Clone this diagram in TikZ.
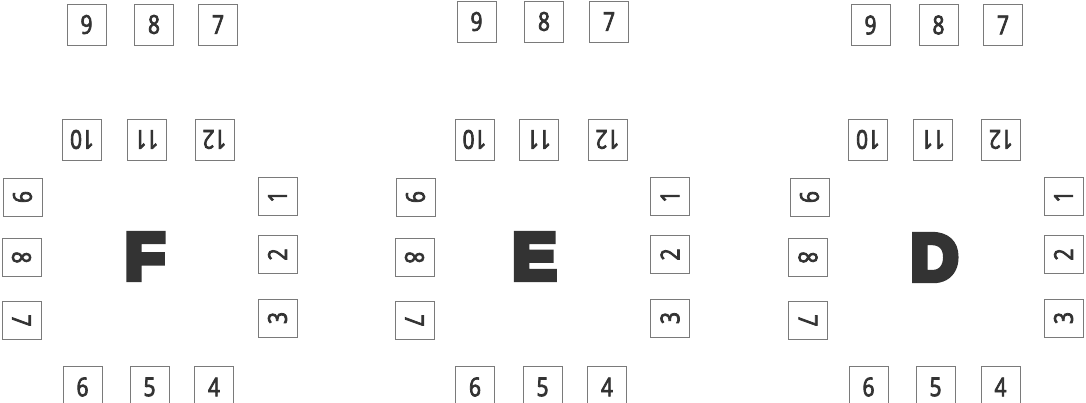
\documentclass[tikz,border=0pt]{standalone}
\usepackage{fontspec}
\usepackage{graphicx}
\newfontfamily\seatfont[FakeStretch=0.8,FakeBold=3]{Open Sans}
\newfontfamily\heavyfont[BoldFeatures={FakeBold=9}]{Liberation Sans}
\definecolor{boxline}{HTML}{7A7A7A}
\definecolor{ink}{HTML}{333333}
\tikzset{
  seat/.style={draw=boxline, line width=0.9pt, fill=white, minimum width=39pt,
    minimum height=41pt, inner sep=0pt, text=ink,
    font=\seatfont\fontsize{26}{26}\selectfont},
  sideseat/.style={seat, minimum width=39pt, minimum height=38pt},
  tablelabel/.style={inner sep=0pt, text=ink,
    font=\heavyfont\bfseries\fontsize{66}{66}\selectfont}
}
\newcommand\cw[1]{\rotatebox{-90}{#1}}
\newcommand\ccw[1]{\rotatebox{90}{#1}}
\newcommand\flip[1]{\rotatebox{180}{#1}}
\begin{document}
\begin{tikzpicture}[x=1pt,y=-1pt]
\clip (0,0) rectangle (1086,402);
\fill[white] (0,0) rectangle (1086,402);
% ---------- group F ----------
\node[seat] (Fa9) at (86.5,24.5) {9};
\node[seat] (Fa8) at (154,24.5) {8};
\node[seat] (Fa7) at (218,24.5) {7};
\node[seat] (F10) at (82,139.5) {\flip{10}};
\node[seat] (F11) at (146.5,139.5) {\flip{11}};
\node[seat] (F12) at (214.5,139.5) {\flip{12}};
\node[sideseat] (F9) at (22.5,197) {\cw{9}};
\node[sideseat] (F8) at (21.5,257.5) {\cw{8}};
\node[sideseat] (F7) at (21.5,320.5) {\cw{7}};
\node[sideseat] (F1) at (277.5,196.5) {\ccw{1}};
\node[sideseat] (F2) at (277.5,254.5) {\ccw{2}};
\node[sideseat] (F3) at (277.5,318) {\ccw{3}};
\node[seat] (F6) at (82.5,387) {6};
\node[seat] (F5) at (149.5,387) {5};
\node[seat] (F4) at (214,387) {4};
\node[tablelabel] (Flab) at (145,256.5) {F};
% ---------- group E ----------
\node[seat] (Ea9) at (476.5,21.5) {9};
\node[seat] (Ea8) at (544,21.5) {8};
\node[seat] (Ea7) at (609,21.5) {7};
\node[seat] (E10) at (474.5,139.5) {\flip{10}};
\node[seat] (E11) at (539,139.5) {\flip{11}};
\node[seat] (E12) at (607.5,139.5) {\flip{12}};
\node[sideseat] (E9) at (415.5,197) {\cw{9}};
\node[sideseat] (E8) at (414.5,257.5) {\cw{8}};
\node[sideseat] (E7) at (414.5,320.5) {\cw{7}};
\node[sideseat] (E1) at (670,196.5) {\ccw{1}};
\node[sideseat] (E2) at (670,254.5) {\ccw{2}};
\node[sideseat] (E3) at (670,318) {\ccw{3}};
\node[seat] (E6) at (475,387) {6};
\node[seat] (E5) at (542.5,387) {5};
\node[seat] (E4) at (607,387) {4};
\node[tablelabel] (Elab) at (534.5,256.5) {E};
% ---------- group D ----------
\node[seat] (Da9) at (870.5,25) {9};
\node[seat] (Da8) at (938.5,25) {8};
\node[seat] (Da7) at (1003,25) {7};
\node[seat] (D10) at (868,139.5) {\flip{10}};
\node[seat] (D11) at (933,139.5) {\flip{11}};
\node[seat] (D12) at (1001,139.5) {\flip{12}};
\node[sideseat] (D9) at (809.5,197) {\cw{9}};
\node[sideseat] (D8) at (808,257.5) {\cw{8}};
\node[sideseat] (D7) at (808,320.5) {\cw{7}};
\node[sideseat] (D1) at (1063.5,196.5) {\ccw{1}};
\node[sideseat] (D2) at (1063.5,254.5) {\ccw{2}};
\node[sideseat] (D3) at (1063.5,318) {\ccw{3}};
\node[seat] (D6) at (868.5,387) {6};
\node[seat] (D5) at (935.5,387) {5};
\node[seat] (D4) at (1000.5,387) {4};
\node[tablelabel] (Dlab) at (934.5,257.5) {D};
\end{tikzpicture}
\end{document}
